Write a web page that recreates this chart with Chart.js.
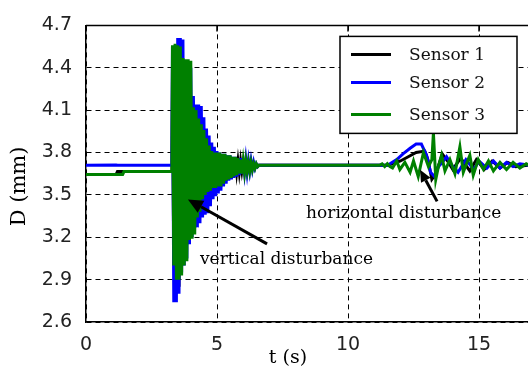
<!DOCTYPE html>
<html>
<head>
<meta charset="utf-8">
<script src="https://cdn.jsdelivr.net/npm/chart.js@4/dist/chart.umd.min.js"></script>
<style>
  html, body { margin: 0; padding: 0; background: #fff; }
  canvas { display: block; }
</style>
</head>
<body>
<canvas id="sensorChart" width="528" height="368"></canvas>
<script>
// 🔹 Series labels and colours
const sensorNames = ["Sensor 1", "Sensor 2", "Sensor 3"];
const sensorColors = ["#000000", "#0000ff", "#008000"];

// 🔹 Axis ticks
const xTickStep = 5;
const yTickLabels = [2.6, 2.9, 3.2, 3.5, 3.8, 4.1, 4.4, 4.7];

// 🔹 Before the vertical disturbance
const tPre = [0, 1.15, 1.2, 1.4, 1.45, 3.28];
const s1Pre = [3.645, 3.645, 3.665, 3.665, 3.665, 3.665];
const s2Pre = [3.71, 3.712, 3.71, 3.71, 3.71, 3.71];
const s3Pre = [3.645, 3.645, 3.645, 3.645, 3.665, 3.665];

// 🔹 Vertical disturbance
const tVert = [3.30, 3.35, 3.40, 3.45, 3.50, 3.55, 3.60, 3.65, 3.70, 3.75, 3.80, 3.85, 3.90, 3.95, 4.00, 4.05, 4.10,
  4.15, 4.20, 4.25, 4.30, 4.35, 4.40, 4.45, 4.50, 4.55, 4.60, 4.65, 4.70, 4.75, 4.80, 4.85, 4.90, 4.95, 5.00,
  5.05, 5.10, 5.15, 5.20, 5.25, 5.30, 5.35, 5.40, 5.45, 5.50, 5.55, 5.60, 5.65, 5.70, 5.75, 5.80, 5.85, 5.90,
  5.95, 6.00, 6.05, 6.10, 6.15, 6.20, 6.25, 6.30, 6.35, 6.40, 6.45, 6.50, 6.55, 6.60];
const s1Vert = [4.40, 3.00, 4.45, 2.82, 4.45, 2.85, 4.40, 3.00, 4.30, 3.05, 4.25, 3.15, 4.20, 3.20, 4.15, 3.25, 4.05,
  3.30, 4.00, 3.38, 3.95, 3.42, 3.92, 3.48, 3.88, 3.52, 3.84, 3.55, 3.82, 3.57, 3.80, 3.58, 3.79, 3.60, 3.78,
  3.61, 3.77, 3.62, 3.77, 3.63, 3.76, 3.64, 3.76, 3.64, 3.75, 3.65, 3.75, 3.65, 3.75, 3.66, 3.74, 3.66, 3.74,
  3.67, 3.73, 3.67, 3.73, 3.68, 3.72, 3.68, 3.72, 3.69, 3.72, 3.69, 3.71, 3.70, 3.71];
const s2Vert = [4.55, 2.74, 4.56, 2.74, 4.61, 2.80, 4.61, 2.95, 4.60, 3.00, 4.45, 3.05, 4.44, 3.15, 4.40, 3.20, 4.20,
  3.27, 4.14, 3.27, 4.14, 3.30, 4.13, 3.34, 4.05, 3.36, 3.97, 3.37, 3.92, 3.42, 3.87, 3.47, 3.84, 3.49, 3.81,
  3.51, 3.80, 3.53, 3.79, 3.56, 3.79, 3.58, 3.78, 3.60, 3.78, 3.61, 3.77, 3.62, 3.77, 3.63, 3.76, 3.64, 3.76,
  3.65, 3.75, 3.66, 3.75, 3.66, 3.74, 3.67, 3.74, 3.68, 3.73, 3.69, 3.72, 3.70, 3.71];
const s3Vert = [4.56, 3.00, 4.57, 2.90, 4.56, 2.90, 4.55, 2.93, 4.47, 3.00, 4.46, 3.03, 4.46, 3.18, 4.45, 3.19, 4.12,
  3.22, 4.10, 3.34, 4.04, 3.38, 4.00, 3.47, 3.96, 3.50, 3.90, 3.52, 3.85, 3.53, 3.81, 3.55, 3.80, 3.55, 3.80,
  3.56, 3.80, 3.56, 3.79, 3.58, 3.79, 3.60, 3.78, 3.61, 3.78, 3.62, 3.77, 3.63, 3.77, 3.64, 3.76, 3.65, 3.75,
  3.65, 3.74, 3.66, 3.74, 3.67, 3.73, 3.67, 3.73, 3.68, 3.72, 3.69, 3.72, 3.70, 3.71];

// 🔹 Settled part
const tMid = [7.5, 9.0, 10.5, 11.0];
const s1Mid = [3.71, 3.71, 3.71, 3.71];
const s2Mid = [3.71, 3.71, 3.71, 3.71];
const s3Mid = [3.71, 3.71, 3.71, 3.71];

// 🔹 Horizontal disturbance
const tHor1 = [11.5, 11.7, 12.0, 12.3, 12.6, 12.93, 13.05, 13.2, 13.35, 13.6, 13.8, 14.0, 14.3, 14.65, 14.9, 15.2,
  15.5, 15.8, 16.1, 16.4, 16.9];
const s1Hor = [3.71, 3.72, 3.74, 3.77, 3.80, 3.81, 3.75, 3.61, 3.65, 3.79, 3.74, 3.68, 3.76, 3.67, 3.75, 3.68,
  3.74, 3.69, 3.73, 3.70, 3.71];
const tHor2 = [11.5, 11.6, 11.86, 12.1, 12.37, 12.6, 12.8, 13.0, 13.15, 13.3, 13.45, 13.6, 13.76, 14.0, 14.2, 14.5,
  14.8, 15.0, 15.3, 15.55, 15.8, 16.05, 16.3, 16.56, 16.9];
const s2Hor = [3.71, 3.72, 3.75, 3.79, 3.83, 3.86, 3.86, 3.78, 3.66, 3.63, 3.70, 3.73, 3.77, 3.70, 3.66, 3.75,
  3.68, 3.74, 3.69, 3.74, 3.69, 3.73, 3.70, 3.72, 3.71];
const tHor3 = [11.2, 11.3, 11.4, 11.5, 11.6, 11.7, 11.86, 11.98, 12.17, 12.37, 12.5, 12.68, 12.88, 13.07, 13.2,
  13.26, 13.35, 13.45, 13.57, 13.7, 13.89, 14.08, 14.27, 14.4, 14.52, 14.65, 14.78, 14.97, 15.17, 15.36, 15.55,
  15.8, 16.05, 16.3, 16.56, 16.8, 16.9];
const s3Hor = [3.71, 3.72, 3.70, 3.72, 3.70, 3.69, 3.74, 3.68, 3.73, 3.66, 3.74, 3.63, 3.80, 3.70, 3.75,
  3.94, 3.61, 3.70, 3.78, 3.67, 3.75, 3.65, 3.84, 3.66, 3.72, 3.78, 3.64, 3.75, 3.68, 3.74, 3.67,
  3.73, 3.68, 3.73, 3.69, 3.72, 3.71];

// 🔹 Annotations (data coordinates)
const notes = [
  { text: "vertical disturbance", x: 4.35, y: 3.04, fromX: 6.91, fromY: 3.153, toX: 3.89, toY: 3.468, head: 15 },
  { text: "horizontal disturbance", x: 8.40, y: 3.37, fromX: 13.40, fromY: 3.454, toX: 12.75, toY: 3.678, head: 12 }
];

// 🔹 Zip time/value arrays into points
function toPoints(parts) {
  const pts = [];
  parts.forEach(([ts, vs]) => ts.forEach((t, i) => pts.push({ x: t, y: vs[i] })));
  return pts;
}

const sensorData = [
  toPoints([[tPre, s1Pre], [tVert, s1Vert], [tMid, s1Mid], [tHor1, s1Hor]]),
  toPoints([[tPre, s2Pre], [tVert, s2Vert], [tMid, s2Mid], [tHor2, s2Hor]]),
  toPoints([[tPre, s3Pre], [tVert, s3Vert], [tMid, s3Mid], [tHor3, s3Hor]])
];

function drawArrow(ctx, x1, y1, x2, y2, head) {
  const ang = Math.atan2(y2 - y1, x2 - x1);
  const bx = x2 - Math.cos(ang) * head, by = y2 - Math.sin(ang) * head;
  ctx.beginPath();
  ctx.moveTo(x1, y1);
  ctx.lineTo(bx, by);
  ctx.stroke();
  const w = head * 0.45;
  ctx.beginPath();
  ctx.moveTo(x2, y2);
  ctx.lineTo(bx + Math.sin(ang) * w, by - Math.cos(ang) * w);
  ctx.lineTo(bx - Math.sin(ang) * w, by + Math.cos(ang) * w);
  ctx.closePath();
  ctx.fill();
}

// 🔹 Frame, titles, annotations and legend
const extras = {
  id: "extras",
  beforeDraw(chart) {
    const { ctx, width, height } = chart;
    ctx.save();
    ctx.fillStyle = "#fff";
    ctx.fillRect(0, 0, width, height);
    ctx.restore();
  },
  afterDraw(chart) {
    const { ctx, chartArea: a, scales: { x, y } } = chart;
    ctx.save();
    ctx.strokeStyle = "#000";
    ctx.fillStyle = "#000";

    // top frame line + inner ticks
    ctx.lineWidth = 1.5;
    ctx.beginPath();
    ctx.moveTo(a.left, a.top);
    ctx.lineTo(a.right, a.top);
    x.ticks.forEach((t, i) => {
      const px = x.getPixelForTick(i);
      ctx.moveTo(px, a.top);
      ctx.lineTo(px, a.top + 6);
    });
    ctx.stroke();

    // axis titles
    ctx.font = "21px 'DejaVu Serif'";
    ctx.textAlign = "center";
    ctx.textBaseline = "middle";
    ctx.save();
    ctx.translate(a.left - 66, a.top + 161);
    ctx.rotate(-Math.PI / 2);
    ctx.fillText("D (mm)", 0, 0);
    ctx.restore();
    ctx.font = "19px 'DejaVu Serif'";
    ctx.fillText("t (s)", 288, 358);

    // annotations
    ctx.font = "17px 'DejaVu Serif'";
    ctx.textAlign = "left";
    ctx.lineWidth = 3;
    notes.forEach(n => {
      ctx.fillText(n.text, x.getPixelForValue(n.x), y.getPixelForValue(n.y));
      drawArrow(ctx, x.getPixelForValue(n.fromX), y.getPixelForValue(n.fromY),
        x.getPixelForValue(n.toX), y.getPixelForValue(n.toY), n.head);
    });

    // legend box
    const lx = a.right - 188, ly = a.top + 11, lw = 177, lh = 97;
    const rows = [18, 46, 78];
    ctx.fillStyle = "#fff";
    ctx.fillRect(lx, ly, lw, lh);
    ctx.lineWidth = 1.5;
    ctx.strokeRect(lx, ly, lw, lh);
    ctx.font = "17px 'DejaVu Serif'";
    chart.data.datasets.forEach((ds, i) => {
      const ry = ly + rows[i];
      ctx.strokeStyle = ds.borderColor;
      ctx.lineWidth = 3;
      ctx.beginPath();
      ctx.moveTo(lx + 11, ry);
      ctx.lineTo(lx + 51, ry);
      ctx.stroke();
      ctx.fillStyle = "#111";
      ctx.fillText(ds.label, lx + 69, ry + 1);
    });
    ctx.restore();
  }
};

const ctxEl = document.getElementById("sensorChart").getContext("2d");

const sensorChart = new Chart(ctxEl, {
  type: "line",
  data: {
    datasets: sensorNames.map((name, i) => ({
      label: name,
      data: sensorData[i],
      borderColor: sensorColors[i],
      backgroundColor: sensorColors[i],
      borderWidth: 3,
      pointRadius: 0,
      tension: 0,
      fill: false,
      order: 3 - i
    }))
  },
  options: {
    responsive: false,
    animation: false,
    devicePixelRatio: 1,
    layout: { padding: { top: 22, right: 0, left: 0, bottom: 0 } },
    plugins: { legend: { display: false }, tooltip: { enabled: false } },
    scales: {
      x: {
        type: "linear",
        min: 0,
        max: 16.87,
        afterFit: s => { s.height = 46; },
        ticks: {
          stepSize: xTickStep,
          includeBounds: false,
          padding: 12,
          color: "#222",
          maxRotation: 0,
          font: { family: "'DejaVu Sans'", size: 19 }
        },
        grid: { color: "#000", lineWidth: 1, drawTicks: false },
        border: { color: "#000", width: 1.5, dash: [5, 4] }
      },
      y: {
        type: "linear",
        min: yTickLabels[0],
        max: yTickLabels[yTickLabels.length - 1],
        afterFit: s => { s.width = 86; },
        afterBuildTicks: s => { s.ticks = yTickLabels.map(v => ({ value: v })); },
        ticks: {
          padding: 14,
          color: "#222",
          font: { family: "'DejaVu Sans'", size: 19 },
          callback: v => Number(v).toFixed(1)
        },
        grid: { color: "#000", lineWidth: 1, drawTicks: false },
        border: { color: "#000", width: 1.5, dash: [5, 4] }
      }
    }
  },
  plugins: [extras]
});
</script>
</body>
</html>
